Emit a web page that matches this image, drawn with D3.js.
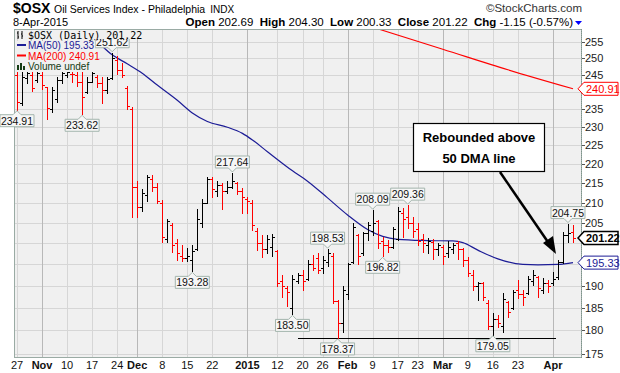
<!DOCTYPE html>
<html>
<head>
<meta charset="utf-8">
<script src="https://cdn.jsdelivr.net/npm/d3@7"></script>
<style>
  body { margin: 0; background: #fff; }
  svg { display: block; font-family: "Liberation Sans", Arial, sans-serif; }
</style>
</head>
<body>
<div id="chart"></div>
<script>
// trading days shown on the chart
var dates = [
  "2014-10-27","2014-10-28","2014-10-29","2014-10-30","2014-10-31",
  "2014-11-03","2014-11-04","2014-11-05","2014-11-06","2014-11-07","2014-11-10","2014-11-11","2014-11-12","2014-11-13","2014-11-14",
  "2014-11-17","2014-11-18","2014-11-19","2014-11-20","2014-11-21","2014-11-24","2014-11-25","2014-11-26","2014-11-28",
  "2014-12-01","2014-12-02","2014-12-03","2014-12-04","2014-12-05","2014-12-08","2014-12-09","2014-12-10","2014-12-11","2014-12-12",
  "2014-12-15","2014-12-16","2014-12-17","2014-12-18","2014-12-19","2014-12-22","2014-12-23","2014-12-24","2014-12-26","2014-12-29","2014-12-30","2014-12-31",
  "2015-01-02","2015-01-05","2015-01-06","2015-01-07","2015-01-08","2015-01-09","2015-01-12","2015-01-13","2015-01-14","2015-01-15","2015-01-16",
  "2015-01-20","2015-01-21","2015-01-22","2015-01-23","2015-01-26","2015-01-27","2015-01-28","2015-01-29","2015-01-30",
  "2015-02-02","2015-02-03","2015-02-04","2015-02-05","2015-02-06","2015-02-09","2015-02-10","2015-02-11","2015-02-12","2015-02-13",
  "2015-02-17","2015-02-18","2015-02-19","2015-02-20","2015-02-23","2015-02-24","2015-02-25","2015-02-26","2015-02-27",
  "2015-03-02","2015-03-03","2015-03-04","2015-03-05","2015-03-06","2015-03-09","2015-03-10","2015-03-11","2015-03-12","2015-03-13",
  "2015-03-16","2015-03-17","2015-03-18","2015-03-19","2015-03-20","2015-03-23","2015-03-24","2015-03-25","2015-03-26","2015-03-27",
  "2015-03-30","2015-03-31","2015-04-01","2015-04-02","2015-04-06","2015-04-07","2015-04-08"
];

var opens = [
  245.0,236.8,244.0,245.0,243.5, 245.0,241.3,235.0,238.0,243.5,245.0,245.2,245.0,243.0,240.0,
  243.0,244.5,242.5,240.5,244.0,249.5,246.5,241.0,235.0,
  214.0,209.0,212.0,216.0,214.0,210.0,201.0,204.5,200.0,197.0,
  196.5,196.0,198.5,205.0,210.0,216.0,213.0,214.5,213.0,214.0,215.0,213.0,
  211.0,210.0,203.0,200.0,198.5,199.0,198.0,191.0,189.5,185.0,191.0,
  192.5,191.5,195.0,196.5,194.0,195.5,197.0,186.5,181.5,
  188.0,195.5,202.0,197.5,202.5,203.0,205.5,200.5,199.5,199.0,
  201.0,207.5,206.5,205.0,203.5,201.0,199.5,200.3,198.5,
  199.0,197.5,198.5,200.0,198.5,196.0,192.5,190.0,190.5,186.0,
  181.0,182.5,181.0,186.3,185.0,189.0,188.0,188.2,191.0,192.0,
  189.0,190.5,190.5,192.0,195.5,202.0,202.69
];
var highs = [
  245.8,245.8,245.8,245.8,245.8, 245.8,241.5,241.3,244.3,245.8,245.8,245.8,245.8,245.8,244.3,
  245.8,245.0,244.3,244.3,251.62,250.5,248.4,241.8,235.6,
  215.6,213.5,217.0,217.0,215.0,210.7,206.0,205.0,201.0,199.5,
  198.7,199.5,208.5,211.0,216.7,216.7,215.5,215.0,215.5,217.64,215.4,213.7,
  211.5,210.7,203.6,201.9,202.0,202.3,198.3,192.5,189.8,192.5,193.0,
  193.6,195.9,197.1,197.5,197.0,198.53,197.6,186.7,189.8,
  195.2,204.8,202.3,202.8,205.2,208.09,205.6,201.5,200.7,204.0,
  208.8,208.6,209.36,206.4,204.8,202.3,201.1,201.0,200.0,
  199.5,200.5,200.0,200.5,198.8,196.7,193.6,190.8,190.8,186.7,
  183.8,183.4,188.2,186.5,189.0,191.3,189.0,192.1,193.6,192.1,
  191.7,191.3,193.2,195.9,202.8,204.75,204.30
];
var lows = [
  234.91,236.2,242.5,240.3,243.0, 240.8,232.3,234.2,237.0,242.5,244.3,242.8,241.8,233.62,239.8,
  242.8,241.3,236.9,239.8,243.8,245.4,244.3,235.1,206.5,
  206.5,208.0,210.5,213.0,209.8,200.3,200.3,197.8,196.0,195.6,
  195.6,193.28,198.3,204.0,209.8,211.5,211.8,208.5,212.5,213.7,212.2,207.3,
  207.3,203.2,198.3,196.7,197.5,197.0,189.8,187.5,185.3,183.50,190.5,
  189.0,191.3,193.6,193.0,193.0,194.5,186.0,178.37,179.6,
  187.0,195.2,195.0,197.1,200.7,201.9,198.7,196.82,197.8,198.8,
  200.7,201.5,203.6,201.5,199.5,197.8,197.5,196.3,197.1,
  195.0,196.7,197.5,196.3,194.5,192.1,189.0,186.7,186.7,180.4,
  179.05,180.8,179.6,183.0,184.8,187.1,185.7,188.0,190.1,187.5,
  188.2,188.6,190.1,191.5,195.3,200.3,200.33
];
var closes = [
  237.0,244.5,245.5,241.0,245.5, 242.0,235.5,240.5,243.5,245.5,245.7,245.2,243.0,238.5,243.0,
  245.5,242.5,240.5,243.8,250.0,246.5,245.0,236.0,214.0,
  209.0,212.5,216.5,214.0,210.5,201.5,205.5,199.5,197.5,196.5,
  197.0,198.0,206.0,210.0,216.0,213.5,214.5,213.0,214.0,215.5,213.0,211.5,
  210.5,204.5,200.0,198.5,201.0,201.5,190.5,190.0,188.5,191.5,192.5,
  191.0,195.0,194.0,193.5,196.0,197.5,186.5,181.5,189.0,
  195.0,204.0,197.0,202.5,204.5,205.0,200.0,199.5,199.0,203.5,
  208.0,206.0,205.0,203.0,200.5,200.0,200.5,198.5,199.5,
  197.0,199.0,199.5,198.5,196.0,193.0,190.0,190.5,187.5,181.0,
  182.5,181.5,187.0,184.0,188.5,188.0,187.5,191.5,192.5,189.5,
  190.5,190.0,191.5,195.5,202.0,202.37,201.22
];
var priorClose = 243.0;

// moving averages (bar index, value)
var ma50Idx  = [12,15,19,22,25,28,32,35,38,42,45,47,50,55,58,62,66,70,73,76,82,87,89,92,96,101,104,108,111];
var ma50Vals = [260.0,256.5,251.0,248.3,245.5,242.0,237.6,234.0,231.6,230.0,228.3,226.5,223.3,218.2,215.5,211.2,206.9,203.3,201.6,200.9,200.6,200.5,200.1,198.3,196.2,194.9,194.8,194.9,195.33];
var ma200Idx  = [70,85,98,111];
var ma200Vals = [260.0,252.7,246.5,240.91];

var yTicks = [175,180,185,190,195,200,205,210,215,220,225,230,235,240,245,250,255];
var xTickDates = ["2014-10-27","2014-11-03","2014-11-10","2014-11-17","2014-11-24","2014-12-01","2014-12-08","2014-12-15","2014-12-22",
  "2015-01-02","2015-01-12","2015-01-20","2015-01-26","2015-02-02","2015-02-09","2015-02-17","2015-02-23",
  "2015-03-02","2015-03-09","2015-03-16","2015-03-23","2015-04-01"];
var xTickLabels = ["27","Nov","10","17","24","Dec","8","15","22","2015","12","20","26","Feb","9","17","23","Mar","9","16","23","Apr"];
var boldLabels = ["Nov","Dec","2015","Feb","Mar","Apr"];

// high / low call-outs
var calloutIdx = [0,13,19,35,43,55,62,64,71,73,78,95,110];
var calloutVal = [234.91,233.62,251.62,193.28,217.64,183.50,198.53,178.37,208.09,196.82,209.36,179.05,204.75];
var calloutPos = ["low","low","high","low","high","low","high","low","high","low","high","low","high"];

var lastClose = 201.22, lastMa50 = 195.33, lastMa200 = 240.91;
var supportLevel = 178.37, supportFrom = 56, supportTo = 107;

var W = 620, H = 373;
var plot = {left: 14, right: 581, top: 29, bottom: 357};

var svg = d3.select("#chart").append("svg")
    .attr("width", W).attr("height", H);

var x = d3.scalePoint().domain(dates).range([17, 573]);
var y = d3.scaleLog().domain([175, 255]).range([353.7, 41.7]);

svg.append("defs").append("clipPath").attr("id", "clip")
  .append("rect")
    .attr("x", plot.left).attr("y", plot.top)
    .attr("width", plot.right - plot.left).attr("height", plot.bottom - plot.top);

// plot background
svg.append("rect")
    .attr("x", plot.left).attr("y", plot.top)
    .attr("width", plot.right - plot.left).attr("height", plot.bottom - plot.top)
    .attr("fill", "#f0f0f0");

// grid
var grid = svg.append("g").attr("shape-rendering", "crispEdges");
grid.selectAll(".hg").data(yTicks).enter().append("line")
    .attr("x1", plot.left).attr("x2", plot.right)
    .attr("y1", d => Math.round(y(d)) + 0.5).attr("y2", d => Math.round(y(d)) + 0.5)
    .attr("stroke", "#d6d6d6");
grid.selectAll(".vg").data(xTickDates).enter().append("line")
    .attr("x1", d => Math.round(x(d)) + 0.5).attr("x2", d => Math.round(x(d)) + 0.5)
    .attr("y1", plot.top).attr("y2", plot.bottom)
    .attr("stroke", (d, i) => boldLabels.indexOf(xTickLabels[i]) >= 0 ? "#b8b8b8" : "#d6d6d6");

// support line
svg.append("line")
    .attr("x1", x(dates[supportFrom])).attr("x2", x(dates[supportTo]) + 3)
    .attr("y1", Math.round(y(supportLevel)) + 0.5).attr("y2", Math.round(y(supportLevel)) + 0.5)
    .attr("stroke", "#000").attr("stroke-width", 1).attr("shape-rendering", "crispEdges");

var inner = svg.append("g").attr("clip-path", "url(#clip)");

// moving averages
var maLine = d3.line()
    .x(d => x(dates[d[0]]))
    .y(d => y(d[1]))
    .curve(d3.curveMonotoneX);
inner.append("path")
    .datum(d3.zip(ma200Idx, ma200Vals))
    .attr("d", maLine).attr("fill", "none")
    .attr("stroke", "#ff0000").attr("stroke-width", 1.1);
inner.append("path")
    .datum(d3.zip(ma50Idx, ma50Vals))
    .attr("d", maLine).attr("fill", "none")
    .attr("stroke", "#1c1c96").attr("stroke-width", 1.2);

// OHLC bars
var bars = dates.map(function(d, i) {
  var prev = i === 0 ? priorClose : closes[i - 1];
  return {date: d, o: opens[i], h: highs[i], l: lows[i], c: closes[i], up: closes[i] >= prev};
});
var barG = inner.append("g").attr("shape-rendering", "crispEdges");
var bar = barG.selectAll("g").data(bars).enter().append("g")
    .attr("stroke", d => d.up ? "#000" : "#ff0000");
bar.append("line")
    .attr("x1", d => Math.round(x(d.date)) + 0.5).attr("x2", d => Math.round(x(d.date)) + 0.5)
    .attr("y1", d => Math.round(y(d.h))).attr("y2", d => Math.round(y(d.l)) + 1);
bar.append("line")
    .attr("x1", d => Math.round(x(d.date)) - 2).attr("x2", d => Math.round(x(d.date)) + 0.5)
    .attr("y1", d => Math.round(y(d.o)) + 0.5).attr("y2", d => Math.round(y(d.o)) + 0.5);
bar.append("line")
    .attr("x1", d => Math.round(x(d.date)) + 0.5).attr("x2", d => Math.round(x(d.date)) + 3)
    .attr("y1", d => Math.round(y(d.c)) + 0.5).attr("y2", d => Math.round(y(d.c)) + 0.5);

// plot frame
svg.append("rect")
    .attr("x", plot.left + 0.5).attr("y", plot.top + 0.5)
    .attr("width", plot.right - plot.left).attr("height", plot.bottom - plot.top)
    .attr("fill", "none").attr("stroke", "#9aaba4").attr("shape-rendering", "crispEdges");
svg.append("line")
    .attr("x1", plot.right + 0.5).attr("x2", plot.right + 0.5)
    .attr("y1", plot.top).attr("y2", plot.bottom + 1)
    .attr("stroke", "#7f948c").attr("stroke-dasharray", "1,1");

// right axis (labels hidden behind a value tag are skipped)
var tagVals = [lastClose, lastMa50, lastMa200];
var shownTicks = yTicks.filter(t => tagVals.every(v => Math.abs(y(v) - y(t)) > 7));
var yAxis = svg.append("g");
yAxis.selectAll("line").data(yTicks).enter().append("line")
    .attr("x1", plot.right + 1).attr("x2", plot.right + 4)
    .attr("y1", d => Math.round(y(d)) + 0.5).attr("y2", d => Math.round(y(d)) + 0.5)
    .attr("stroke", "#555").attr("shape-rendering", "crispEdges");
yAxis.selectAll("text").data(shownTicks).enter().append("text")
    .attr("x", plot.right + 4).attr("y", d => y(d) + 4)
    .attr("font-size", 11).attr("fill", "#222")
    .text(d => d);

// bottom axis
svg.append("g").selectAll("text").data(xTickDates).enter().append("text")
    .attr("x", d => x(d)).attr("y", 369)
    .attr("text-anchor", "middle").attr("font-size", 11).attr("fill", "#111")
    .attr("font-weight", (d, i) => boldLabels.indexOf(xTickLabels[i]) >= 0 ? "bold" : "normal")
    .text((d, i) => xTickLabels[i]);

// value tags on the right axis
function tag(v, color, bold) {
  var yc = y(v), x0 = plot.right - 3, x1 = 618;
  var g = svg.append("g");
  g.append("path")
    .attr("d", "M" + x0 + "," + yc + "L" + (x0 + 6) + "," + (yc - 6.5) + "L" + x1 + "," + (yc - 6.5) +
               "L" + x1 + "," + (yc + 6.5) + "L" + (x0 + 6) + "," + (yc + 6.5) + "Z")
    .attr("fill", "#fff").attr("stroke", color).attr("stroke-width", bold ? 1.5 : 1);
  g.append("text").attr("x", x0 + 8).attr("y", yc + 4)
    .attr("font-size", 11).attr("fill", color)
    .attr("font-weight", bold ? "bold" : "normal")
    .text(v.toFixed(2));
}
tag(lastMa200, "#ff0000", false);
tag(lastMa50, "#1c1c96", false);
tag(lastClose, "#000", true);

// high/low call-outs
calloutIdx.forEach(function(idx, k) {
  var cx = x(dates[idx]), v = calloutVal[k], below = calloutPos[k] === "low";
  var py = y(v), label = v.toFixed(2);
  var w = 34, h = 12;
  var top = below ? py + 5 : py - 5 - h;
  var l = cx - w / 2, r = cx + w / 2;
  var p = below
    ? "M" + l + "," + top + "L" + (cx - 4) + "," + top + "L" + cx + "," + (py + 1) + "L" + (cx + 4) + "," + top +
      "L" + r + "," + top + "L" + r + "," + (top + h) + "L" + l + "," + (top + h) + "Z"
    : "M" + l + "," + top + "L" + r + "," + top + "L" + r + "," + (top + h) + "L" + (cx + 4) + "," + (top + h) +
      "L" + cx + "," + (py - 1) + "L" + (cx - 4) + "," + (top + h) + "L" + l + "," + (top + h) + "Z";
  svg.append("path").attr("d", p)
    .attr("fill", "#f6f6f6").attr("stroke", "#a3b5ad");
  svg.append("text").attr("x", cx).attr("y", top + 10)
    .attr("text-anchor", "middle").attr("font-size", 10.5).attr("fill", "#111")
    .text(label);
});

// legend
var legendRows = [
  {t: "$OSX (Daily) 201.22", c: "#000"},
  {t: "MA(50) 195.33", c: "#1c1c96"},
  {t: "MA(200) 240.91", c: "#ff0000"},
  {t: "Volume undef", c: "#143c14"}
];
var lg = svg.append("g").attr("font-size", 10);
lg.append("rect").attr("x", 15).attr("y", 41).attr("width", 80).attr("height", 31).attr("fill", "#f0f0f0");
legendRows.forEach(function(r, i) {
  var by = 38.5 + i * 10.5;
  var t = lg.append("text").attr("x", 28).attr("y", by).attr("fill", r.c).text(r.t);
  if (i === 0) {
    t.attr("font-family", "'DejaVu Sans Mono', monospace").attr("font-size", 10);
    var bb = t.node().getBBox();
    lg.insert("rect", "text").attr("x", 15).attr("y", 30).attr("width", bb.width + 14).attr("height", 9)
      .attr("fill", "#f0f0f0");
  }
});
lg.append("path").attr("d", "M18,31v8M17,33h1M18,37h1M22,31v8M21,34h1M22,36h1")
  .attr("stroke", "#000").attr("fill", "none");
lg.append("line").attr("x1", 17).attr("x2", 26).attr("y1", 45).attr("y2", 45).attr("stroke", "#1c1c96").attr("stroke-width", 2);
lg.append("line").attr("x1", 17).attr("x2", 26).attr("y1", 55.5).attr("y2", 55.5).attr("stroke", "#ff0000").attr("stroke-width", 2);
lg.append("path").attr("d", "M17,70h2v-5h-2zM20,70h2v-7h-2zM23,70h2v-4h-2z").attr("fill", "#143c14");

// header
var hd = svg.append("g");
hd.append("text").attr("x", 13).attr("y", 13).attr("font-size", 14).attr("font-weight", "bold").text("$OSX");
var title = hd.append("text").attr("x", 54).attr("y", 13).attr("font-size", 10.5).text("Oil Services Index - Philadelphia");
hd.append("text").attr("x", 54 + title.node().getComputedTextLength() + 5).attr("y", 13)
  .attr("font-size", 10).text("INDX");
hd.append("text").attr("x", 582).attr("y", 12).attr("text-anchor", "end").attr("font-size", 11.5).attr("fill", "#333").text("\u00A9StockCharts.com");
hd.append("text").attr("x", 13).attr("y", 26).attr("font-size", 11).text("8-Apr-2015");
var q = hd.append("text").attr("x", 573).attr("y", 26).attr("text-anchor", "end").attr("font-size", 11.5);
[["Open", " 202.69  "], ["High", " 204.30  "], ["Low", " 200.33  "], ["Close", " 201.22  "], ["Chg", " -1.15 (-0.57%)"]].forEach(function(p) {
  q.append("tspan").attr("font-weight", "bold").text(p[0]);
  q.append("tspan").attr("xml:space", "preserve").text(p[1]);
});
hd.append("path").attr("d", "M575,21h7l-3.5,4z").attr("fill", "#0000ff");

// annotation
var note = svg.append("g");
note.append("rect").attr("x", 413.5).attr("y", 123.5).attr("width", 131).attr("height", 48)
  .attr("fill", "#fff").attr("stroke", "#000").attr("stroke-width", 1.2);
note.append("text").attr("x", 479).attr("y", 142).attr("text-anchor", "middle")
  .attr("font-size", 13).attr("font-weight", "bold").text("Rebounded above");
note.append("text").attr("x", 479).attr("y", 163).attr("text-anchor", "middle")
  .attr("font-size", 13).attr("font-weight", "bold").text("50 DMA line");
note.append("line").attr("x1", 500).attr("y1", 172).attr("x2", 550).attr("y2", 245)
  .attr("stroke", "#000").attr("stroke-width", 2.5);
note.append("path").attr("d", "M556,254L543,243L553,236Z").attr("fill", "#000");
</script>
</body>
</html>
